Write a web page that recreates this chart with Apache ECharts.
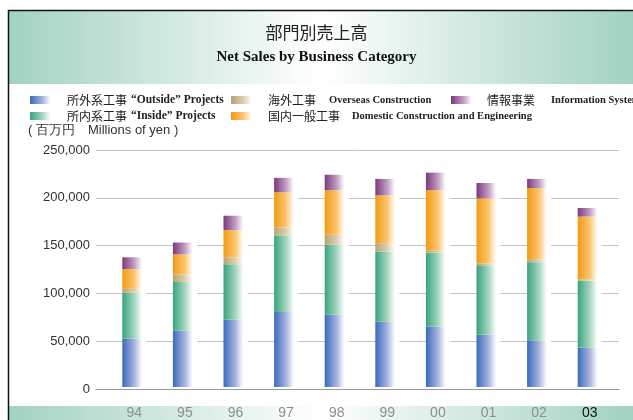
<!DOCTYPE html>
<html>
<head>
<meta charset="utf-8">
<title>部門別売上高</title>
<script src="https://cdn.jsdelivr.net/npm/echarts@6/dist/echarts.min.js"></script>
<style>
  html, body { margin: 0; padding: 0; background: #fff; }
  #chart { width: 633px; height: 420px; }
</style>
</head>
<body>
<div id="chart"></div>
<script>
// fiscal years (x axis)
const years = ['94', '95', '96', '97', '98', '99', '00', '01', '02', '03']

// net sales by category, millions of yen (stacked bottom -> top)
const outside = [51000, 59400, 70900, 79200, 76100, 68800, 63600, 55200, 49300, 41600]
const inside = [48300, 51400, 58700, 80300, 73900, 74200, 78400, 73300, 82400, 70600]
const overseas = [4200, 8000, 7200, 8800, 10500, 8700, 1800, 1800, 3100, 1200]
const domestic = [20900, 21100, 28700, 37100, 47100, 50500, 63800, 68700, 75000, 66300]
const info = [12400, 12500, 15200, 15200, 16300, 17300, 18500, 16200, 9700, 9100]

const seriesNames = ['所外系工事', '所内系工事', '海外工事', '国内一般工事', '情報事業']
const englishNames = ['“Outside” Projects', '“Inside” Projects', 'Overseas Construction',
  'Domestic Construction and Engineering', 'Information System']

const sans = "'Liberation Sans', Arial, sans-serif"
const serif = "'Liberation Serif', 'DejaVu Serif', serif"
const cjk = "'Noto Sans CJK JP', 'Noto Sans CJK SC', sans-serif"

// bars fade from the colour on the left to white on the right
function fade(dark, mid) {
  return new echarts.graphic.LinearGradient(0, 0, 1, 0, [
    { offset: 0, color: dark },
    { offset: 0.5, color: mid },
    { offset: 0.82, color: '#ffffff' },
    { offset: 1, color: '#ffffff' }
  ])
}

function band(y, h) {
  return {
    type: 'rect',
    z: -10,
    shape: { x: 9, y: y, width: 624, height: h },
    style: {
      fill: new echarts.graphic.LinearGradient(0, 0, 1, 0, [
        { offset: 0, color: '#a2d2c1' },
        { offset: 0.5, color: '#ffffff' },
        { offset: 1, color: '#a2d2c1' }
      ])
    }
  }
}

function legendItem(idx, left, top, jpPad, enPad, enSize) {
  return {
    data: [seriesNames[idx]],
    left: left,
    top: top,
    padding: 0,
    icon: 'rect',
    itemWidth: 25,
    itemHeight: 8,
    selectedMode: false,
    formatter: name => '{jp|' + name + '}{en|' + englishNames[seriesNames.indexOf(name)] + '}',
    textStyle: {
      rich: {
        jp: { fontFamily: cjk, fontSize: 12, color: '#222', padding: [0, 0, 0, jpPad] },
        en: { fontFamily: serif, fontSize: enSize, fontWeight: 'bold', color: '#222', padding: [0, 0, 0, enPad] }
      }
    }
  }
}

const chart = echarts.init(document.getElementById('chart'))

const barBase = {
  type: 'bar',
  stack: 'sales',
  barWidth: 24,
  xAxisIndex: 0,
  yAxisIndex: 0
}

chart.setOption({
  backgroundColor: '#ffffff',
  animation: false,
  title: [
    {
      text: '部門別売上高',
      left: 'center',
      top: 24,
      padding: 0,
      textStyle: { fontFamily: cjk, fontSize: 17, fontWeight: 'normal', color: '#222' }
    },
    {
      text: 'Net Sales by Business Category',
      left: 'center',
      top: 50,
      padding: 0,
      textStyle: { fontFamily: serif, fontSize: 15, fontWeight: 'bold', color: '#111' }
    },
    {
      text: '( 百万円　Millions of yen )',
      left: 28,
      top: 124,
      padding: 0,
      textStyle: { fontFamily: sans, fontSize: 13, fontWeight: 'normal', color: '#333' }
    }
  ],
  legend: [
    legendItem(0, 30, 94, 7, 4, 11.5),
    legendItem(2, 231, 94, 7, 13, 10.5),
    legendItem(4, 451, 94, 6, 16, 10.5),
    legendItem(1, 30, 110, 7, 4, 11.5),
    legendItem(3, 231, 110, 7, 12, 10.5)
  ],
  graphic: [
    band(11, 73),
    band(406, 14),
    { type: 'line', z: 10, shape: { x1: 8.5, y1: 10, x2: 8.5, y2: 420 }, style: { stroke: '#111', lineWidth: 1.5 } },
    { type: 'line', z: 10, shape: { x1: 8, y1: 10.5, x2: 633, y2: 10.5 }, style: { stroke: '#111', lineWidth: 1.5 } }
  ],
  grid: [
    { left: 109, right: 18, top: 150, bottom: 31 },
    { left: 96, right: 14, top: 150, bottom: 31 }
  ],
  xAxis: [
    {
      type: 'category',
      gridIndex: 0,
      data: years,
      axisLine: { show: false },
      axisTick: { show: false },
      axisLabel: {
        margin: 19,
        fontFamily: sans,
        fontSize: 14,
        color: (value) => (value === '03' ? '#111' : '#8f8f8f')
      }
    },
    {
      type: 'category',
      gridIndex: 1,
      data: [''],
      axisLine: { lineStyle: { color: '#9a9a9a', width: 1 } },
      axisTick: { show: false },
      axisLabel: { show: false }
    }
  ],
  yAxis: [
    {
      type: 'value',
      gridIndex: 0,
      min: 0,
      max: 250000,
      interval: 50000,
      axisLabel: { show: false },
      splitLine: { show: false }
    },
    {
      type: 'value',
      gridIndex: 1,
      min: 0,
      max: 250000,
      interval: 50000,
      axisLine: { show: false },
      axisTick: { show: false },
      axisLabel: {
        margin: 6,
        fontFamily: sans,
        fontSize: 13,
        color: '#333',
        formatter: v => v.toLocaleString('en-US')
      },
      splitLine: { lineStyle: { color: '#c4c4c4', width: 1 } }
    }
  ],
  series: [
    Object.assign({}, barBase, { name: seriesNames[0], data: outside, itemStyle: { color: fade('#3a6bbb', '#a6b3df') } }),
    Object.assign({}, barBase, { name: seriesNames[1], data: inside, itemStyle: { color: fade('#38a47e', '#a5d5bf') } }),
    Object.assign({}, barBase, { name: seriesNames[2], data: overseas, itemStyle: { color: fade('#b4a474', '#dcd1ae') } }),
    Object.assign({}, barBase, { name: seriesNames[3], data: domestic, itemStyle: { color: fade('#f29a10', '#fcc672') } }),
    Object.assign({}, barBase, { name: seriesNames[4], data: info, itemStyle: { color: fade('#7a3a7e', '#c19dc3') } })
  ]
})
</script>
</body>
</html>
